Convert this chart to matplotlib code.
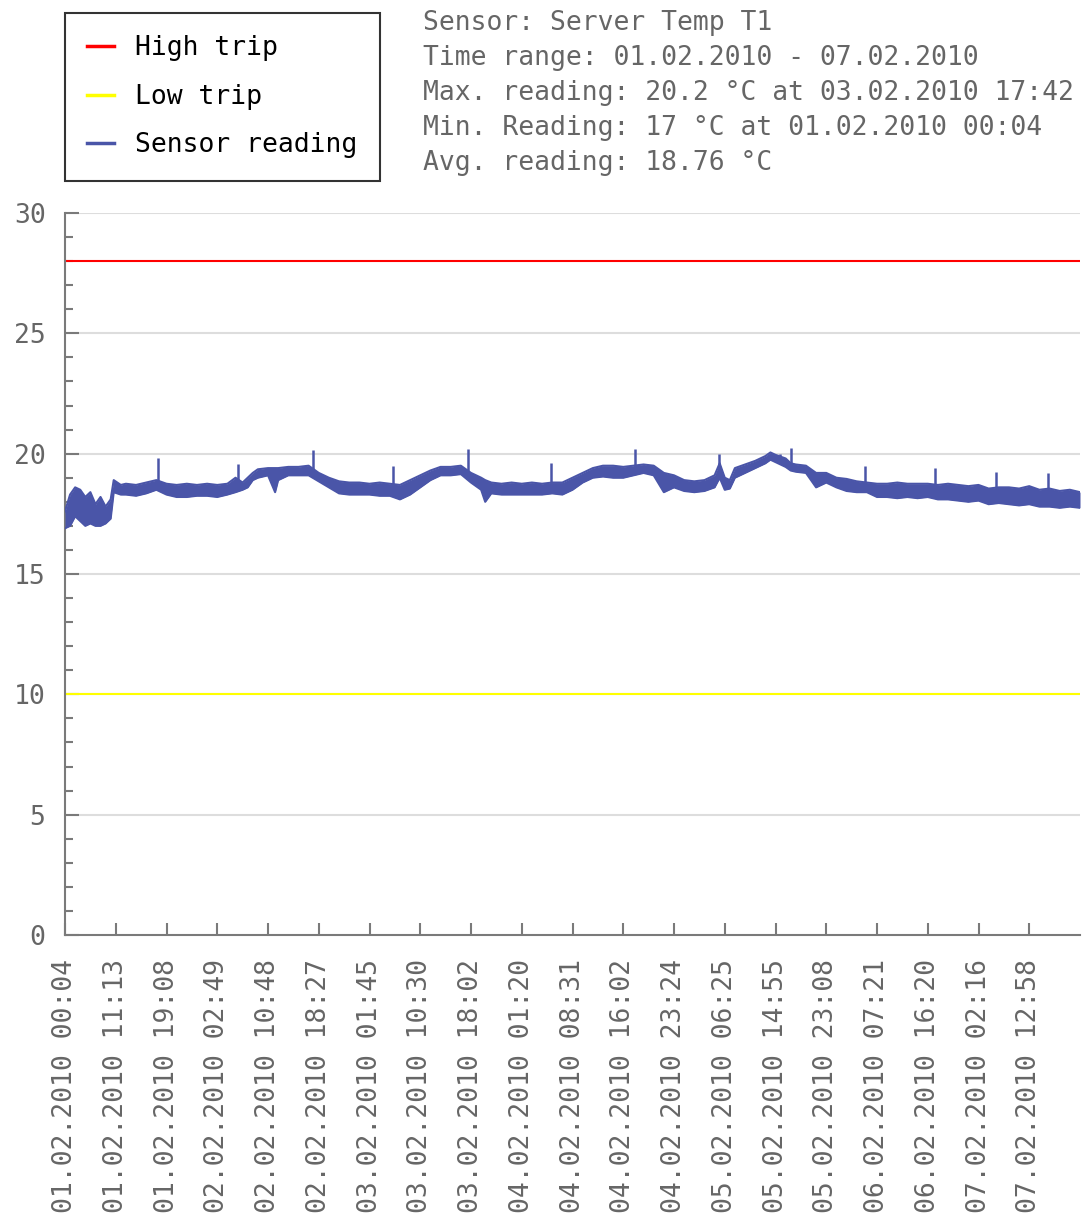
import matplotlib
matplotlib.use('Agg')
import matplotlib.pyplot as plt
from matplotlib.lines import Line2D
from matplotlib.ticker import MultipleLocator
import numpy as np

plt.rcParams['font.family'] = ['DejaVu Sans Mono']

# threshold levels (deg C)
high_trip = 28
low_trip = 10

sample_idx = [0, 5, 10, 15, 20, 25, 30, 35, 40, 45, 48, 55, 60, 70, 80, 90,
              100, 110, 120, 130, 140, 150, 160, 168, 175, 180, 185, 190,
              200, 207, 210, 220, 230, 240, 250, 260, 270, 280, 290, 300,
              310, 320, 330, 340, 350, 360, 370, 380, 390, 400, 410, 414,
              420, 430, 440, 450, 460, 470, 480, 490, 500, 510, 520, 530,
              540, 550, 560, 570, 580, 590, 600, 610, 620, 630, 640, 645,
              650, 655, 660, 670, 680, 690, 695, 700, 710, 715, 720, 730,
              740, 750, 760, 770, 780, 790, 800, 810, 820, 830, 840, 850,
              860, 870, 880, 890, 900, 910, 920, 930, 940, 950, 960, 970,
              980, 990, 1000]
reading_hi = [17.6, 18.3, 18.6, 18.5, 18.2, 18.4, 17.9, 18.2, 17.8, 18.1, 18.9, 18.7, 18.75, 18.7, 18.8, 18.9,
              18.75, 18.7, 18.75, 18.7, 18.75, 18.7, 18.75, 19.0, 18.8, 19.0, 19.2, 19.35,
              19.4, 19.4, 19.4, 19.45, 19.45, 19.5, 19.2, 19.0, 18.85, 18.8, 18.8, 18.75,
              18.8, 18.75, 18.7, 18.9, 19.1, 19.3, 19.45, 19.45, 19.5, 19.2, 19.0, 18.9,
              18.8, 18.75, 18.8, 18.75, 18.8, 18.75, 18.8, 18.8, 19.0, 19.2, 19.4, 19.5,
              19.5, 19.45, 19.5, 19.55, 19.5, 19.2, 19.1, 18.9, 18.85, 18.9, 19.1, 19.6,
              19.0, 18.9, 19.4, 19.55, 19.7, 19.9, 20.05, 19.95, 19.8, 19.6, 19.55, 19.5,
              19.2, 19.2, 19.0, 18.95, 18.85, 18.8, 18.75, 18.75, 18.8, 18.75, 18.75, 18.75,
              18.7, 18.75, 18.7, 18.65, 18.7, 18.55, 18.6, 18.6, 18.55, 18.65, 18.5, 18.55,
              18.45, 18.5, 18.4]
reading_lo = [16.9, 17.0, 17.4, 17.2, 17.0, 17.1, 17.0, 17.0, 17.1, 17.3, 18.4, 18.3, 18.3, 18.25, 18.35, 18.5,
              18.3, 18.2, 18.2, 18.25, 18.25, 18.2, 18.3, 18.4, 18.5, 18.6, 18.9, 19.0,
              19.1, 18.4, 18.9, 19.1, 19.1, 19.1, 18.85, 18.6, 18.35, 18.3, 18.3, 18.3,
              18.25, 18.25, 18.1, 18.3, 18.6, 18.9, 19.1, 19.1, 19.15, 18.8, 18.5, 18.0,
              18.35, 18.3, 18.3, 18.3, 18.3, 18.3, 18.35, 18.3, 18.5, 18.8, 19.0, 19.05,
              19.0, 19.0, 19.1, 19.2, 19.1, 18.4, 18.6, 18.45, 18.4, 18.45, 18.6, 19.0,
              18.5, 18.55, 19.0, 19.2, 19.4, 19.6, 19.75, 19.65, 19.45, 19.3, 19.25, 19.2,
              18.6, 18.8, 18.6, 18.45, 18.4, 18.4, 18.2, 18.2, 18.15, 18.2, 18.15, 18.2,
              18.1, 18.1, 18.05, 18.0, 18.05, 17.9, 17.95, 17.9, 17.85, 17.9, 17.8, 17.8,
              17.75, 17.8, 17.75]

# short peaks sticking out of the band
spike_idx = [92, 170, 244, 323, 397, 479, 562, 644, 704, 715, 788, 857, 917, 968]
spike_base = [18.6, 18.6, 19.2, 18.5, 19.2, 18.5, 19.2, 19.2, 19.6, 19.4, 18.6, 18.4, 18.3, 18.3]
spike_top = [19.8, 19.55, 20.15, 19.5, 20.2, 19.6, 20.2, 20.0, 20.0, 20.25, 19.5, 19.4, 19.25, 19.2]

tick_pos = [0, 50, 100, 150, 200, 250, 300, 350, 400, 450, 500, 550, 600,
            650, 700, 750, 800, 850, 900, 950]
tick_labels = ['01.02.2010 00:04', '01.02.2010 11:13', '01.02.2010 19:08',
               '02.02.2010 02:49', '02.02.2010 10:48', '02.02.2010 18:27',
               '03.02.2010 01:45', '03.02.2010 10:30', '03.02.2010 18:02',
               '04.02.2010 01:20', '04.02.2010 08:31', '04.02.2010 16:02',
               '04.02.2010 23:24', '05.02.2010 06:25', '05.02.2010 14:55',
               '05.02.2010 23:08', '06.02.2010 07:21', '06.02.2010 16:20',
               '07.02.2010 02:16', '07.02.2010 12:58']

info_lines = ['Sensor: Server Temp T1',
              'Time range: 01.02.2010 - 07.02.2010',
              'Max. reading: 20.2 °C at 03.02.2010 17:42',
              'Min. Reading: 17 °C at 01.02.2010 00:04',
              'Avg. reading: 18.76 °C']

RED = '#ff0000'
YELLOW = '#ffff00'
BLUE = '#4a55a8'
AXIS = '#7a7a7a'
TEXT = '#666666'
FS = 19

fig = plt.figure(figsize=(10.84, 12.16), dpi=100)
ax = fig.add_axes([65 / 1084, 281 / 1216, 1015 / 1084, 722 / 1216])

for y in range(5, 31, 5):
    ax.axhline(y, color='#dddddd', lw=1.5, zorder=0)

ax.axhline(high_trip, color=RED, lw=1.5, zorder=2)
ax.axhline(low_trip, color=YELLOW, lw=1.5, zorder=2)
ax.fill_between(sample_idx, reading_lo, reading_hi, color=BLUE, lw=0, zorder=3)
ax.plot(sample_idx, reading_hi, color=BLUE, lw=1.5, zorder=3)
ax.plot(sample_idx, reading_lo, color=BLUE, lw=1.5, zorder=3)
ax.vlines(spike_idx, spike_base, spike_top, color=BLUE, lw=1.8, zorder=3)

ax.set_xlim(0, 1000)
ax.set_ylim(0, 30)
ax.spines['top'].set_visible(False)
ax.spines['right'].set_visible(False)
for s in ['left', 'bottom']:
    ax.spines[s].set_color(AXIS)
    ax.spines[s].set_linewidth(1.5)

ax.yaxis.set_major_locator(MultipleLocator(5))
ax.yaxis.set_minor_locator(MultipleLocator(1))
ax.tick_params(axis='y', which='major', direction='in', length=10, width=1.5,
               color=AXIS, labelcolor=TEXT, labelsize=FS, pad=14)
ax.tick_params(axis='y', which='minor', direction='in', length=6, width=1.5,
               color=AXIS)
ax.set_xticks(tick_pos)
ax.set_xticklabels(tick_labels, rotation=90)
ax.tick_params(axis='x', direction='in', length=9, width=1.5, color=AXIS,
               labelcolor=TEXT, labelsize=FS, pad=17)

handles = [Line2D([], [], color=RED, lw=2.5),
           Line2D([], [], color=YELLOW, lw=2.5),
           Line2D([], [], color=BLUE, lw=2.5)]
leg = fig.legend(handles, ['High trip', 'Low trip', 'Sensor reading'],
                 loc='upper left', bbox_to_anchor=(65 / 1084, 1 - 13 / 1216),
                 prop={'size': FS}, fancybox=False, frameon=True,
                 handlelength=1.0, handletextpad=0.8, borderpad=0.85,
                 labelspacing=0.85, borderaxespad=0, handleheight=0.7)
leg.get_frame().set_edgecolor('black')
leg.get_frame().set_linewidth(1.5)

for i, line in enumerate(info_lines):
    fig.text(423 / 1084, 1 - (23 + 35 * i) / 1216, line, color=TEXT,
             fontsize=FS, va='center', ha='left')

fig.savefig('out.png', dpi=100)
